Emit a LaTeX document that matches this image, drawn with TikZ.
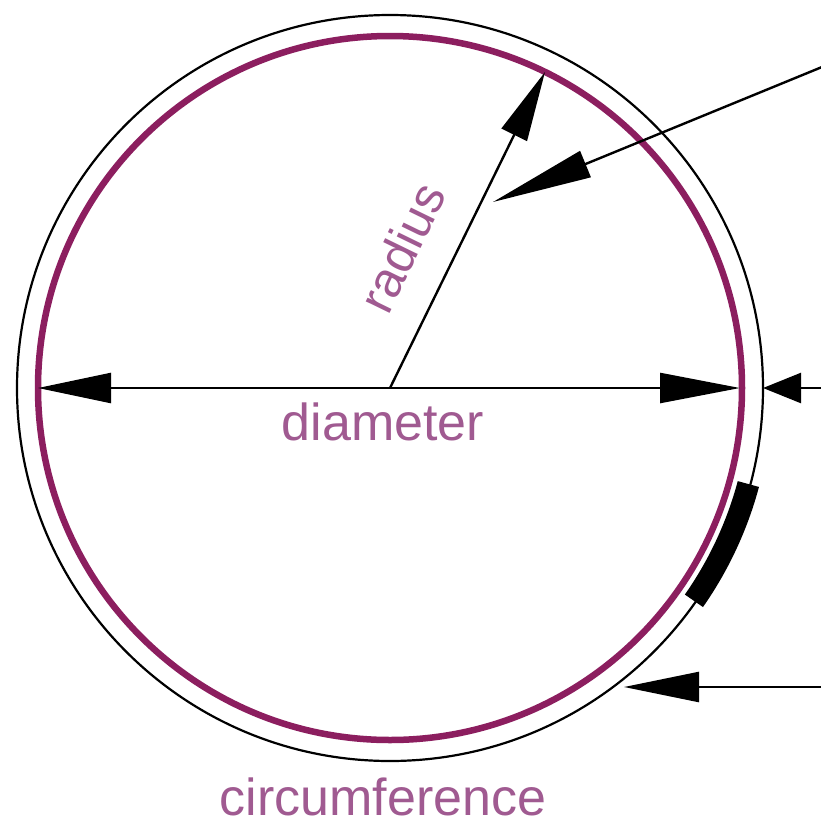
\documentclass[tikz,border=0pt]{standalone}
\usepackage{fontspec}
\setmainfont{Liberation Sans}
\usetikzlibrary{arrows.meta}
\definecolor{circpurple}{RGB}{140,30,95}
\definecolor{labelpurple}{RGB}{160,90,145}
\begin{document}
\begin{tikzpicture}[x=1pt,y=-1pt,
  conn/.style={draw=black, line width=2.4pt},
  lbl/.style={text=labelpurple, font=\fontsize{52pt}{60pt}\selectfont, inner sep=0pt}]
\useasboundingbox (0,0) rectangle (820,825);
\fill[white] (0,0) rectangle (820,825);
% centre and key points
\coordinate (O) at (390,388);
\coordinate (DL) at (38,388);
\coordinate (DR) at (740,388);
\coordinate (RT) at (545,72);
\coordinate (E1) at (822,388);
\coordinate (E1tip) at (763,388);
\coordinate (P1) at (822,67);
\coordinate (P1tip) at (493,202);
\coordinate (P3) at (822,687);
\coordinate (P3tip) at (624,687);
% circles
\draw[circpurple, line width=6.5pt] (O) circle[radius=352];
\draw[black, line width=2.2pt] (O) circle[radius=373];
% circumference marker
\draw[black, line width=22pt] (O) ++(15:371) arc[start angle=15, end angle=35, radius=371];
% diameter
\draw[conn, {Triangle[length=73pt,width=30pt]}-{Triangle[length=80pt,width=30pt]}] (DL) -- (DR);
\draw[conn, -{Triangle[length=38pt,width=30pt]}] (E1) -- (E1tip);
% radius
\draw[conn, -{Triangle[length=70pt,width=28pt]}] (O) -- (RT);
% pointers
\draw[conn, -{Triangle[length=100pt,width=28pt]}] (P1) -- (P1tip);
\draw[conn, -{Triangle[length=75pt,width=30pt]}] (P3) -- (P3tip);
% labels
\node[lbl, anchor=base] (diam) at (383,440) {diameter};
\node[lbl, anchor=base] (circ) at (383,815) {circumference};
\node[lbl, rotate=64, font=\fontsize{50pt}{60pt}\selectfont] (rad) at (402,247) {radius};
\end{tikzpicture}
\end{document}
